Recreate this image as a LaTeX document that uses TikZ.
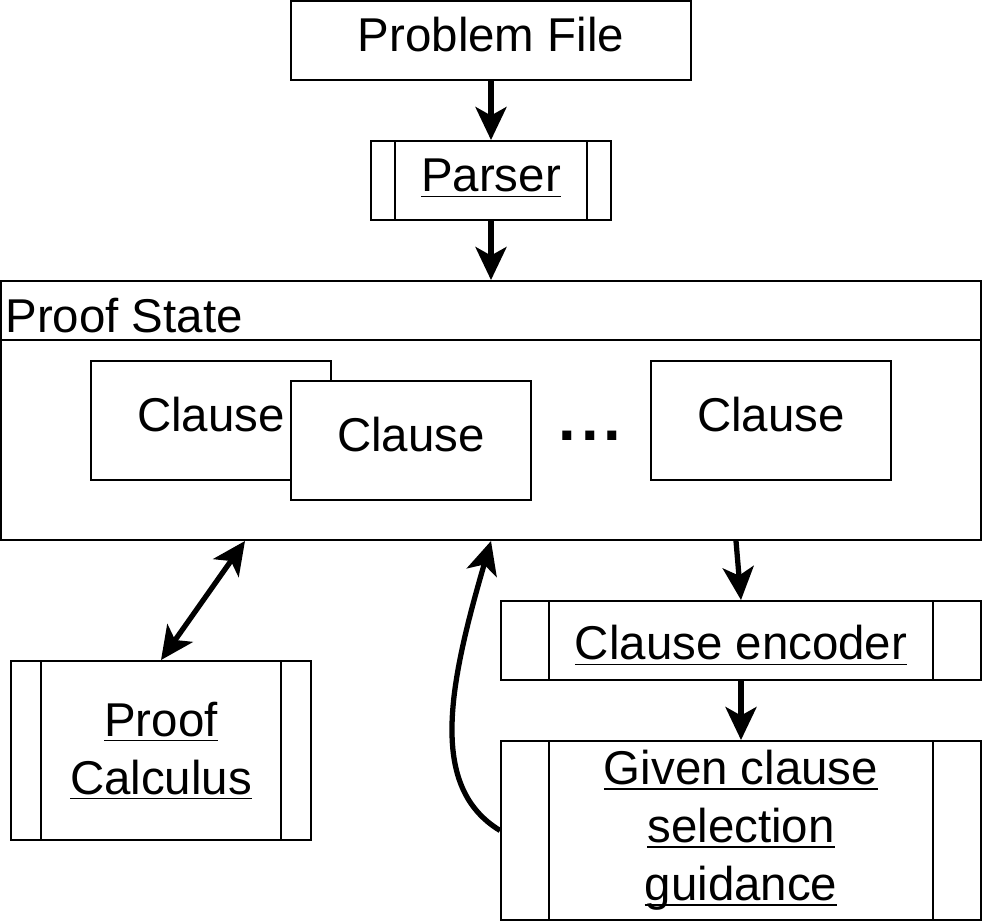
\documentclass[tikz,border=0pt]{standalone}
\usepackage{fontspec}
\setmainfont{Liberation Sans}
\usetikzlibrary{arrows.meta,positioning}
\newsavebox{\ulbox}
\newcommand{\ulin}[1]{\sbox{\ulbox}{#1}\rlap{\rule[-3pt]{\wd\ulbox}{0.9pt}}\usebox{\ulbox}}

\begin{document}
\begin{tikzpicture}[
    >={Stealth[length=0.66cm, width=0.62cm, inset=0.17cm]},
    mbox/.style={draw, line width=1.1pt, fill=white, inner sep=0pt, font=\fontsize{27}{33}\selectfont},
    box/.style={mbox, text height=20pt, text depth=7pt},
    proc/.style={path picture={
        \draw[line width=1.1pt] ([xshift=#1]path picture bounding box.north west) -- ([xshift=#1]path picture bounding box.south west);
        \draw[line width=1.1pt] ([xshift=-#1]path picture bounding box.north east) -- ([xshift=-#1]path picture bounding box.south east);}},
    lbl/.style={inner sep=0pt, font=\fontsize{27}{33}\selectfont},
    dotsty/.style={inner sep=0pt, font=\fontsize{36}{40}\selectfont\bfseries},
    arr/.style={->, line width=3pt}
]
    \fill[white] (0,0) rectangle (19.64,-18.44);
    \useasboundingbox (0,0) rectangle (19.64,-18.44);

    \node[box, minimum width=8cm, minimum height=1.58cm] (pfile) at (9.82,-0.81) {Problem File};
    \node[box, proc=0.48cm, minimum width=4.8cm, minimum height=1.58cm] (parser) at (9.82,-3.61) {\ulin{Parser}};

    \node[draw, line width=1.1pt, minimum width=19.6cm, minimum height=5.18cm] (state) at (9.82,-8.21) {};
    \draw[line width=1.1pt] ([yshift=-1.2cm]state.north west) -- ([yshift=-1.2cm]state.north east);
    \node[lbl, anchor=west] (title) at ([xshift=0.1cm, yshift=-0.72cm]state.north west) {Proof State};

    \node[box, minimum width=4.8cm, minimum height=2.38cm] (cl1) at (4.22,-8.41) {Clause};
    \node[box, minimum width=4.8cm, minimum height=2.38cm] (cl2) at (8.22,-8.81) {Clause};
    \node[dotsty] (dots) at (11.8,-8.71) {.\kern2.7pt.\kern2.7pt.};
    \node[box, minimum width=4.8cm, minimum height=2.38cm] (cl3) at (15.42,-8.41) {Clause};

    \node[mbox, proc=0.6cm, minimum width=6cm, minimum height=3.58cm, align=center] (calc) at (3.22,-15.01) {\ulin{Proof}\\\ulin{Calculus}};
    \node[box, proc=0.96cm, text height=24pt, text depth=2pt, minimum width=9.6cm, minimum height=1.58cm] (enc) at (14.82,-12.81) {\ulin{Clause encoder}};
    \node[mbox, proc=0.96cm, minimum width=9.6cm, minimum height=3.58cm, align=center] (guide) at (14.82,-16.61) {\ulin{Given clause}\\\ulin{selection}\\\ulin{guidance}};

    \draw[arr] (pfile) -- (parser);
    \draw[arr] (parser) -- (state);
    \draw[arr, <->] ([xshift=-4.92cm]state.south) -- (calc.north);
    \draw[arr] ([xshift=4.9cm]state.south) -- (enc.north);
    \draw[arr] (enc) -- (guide);
    \draw[arr] (guide.west) .. controls +(-1.42,0.86) and +(-0.86,-2.94) .. (state.south);
\end{tikzpicture}
\end{document}
